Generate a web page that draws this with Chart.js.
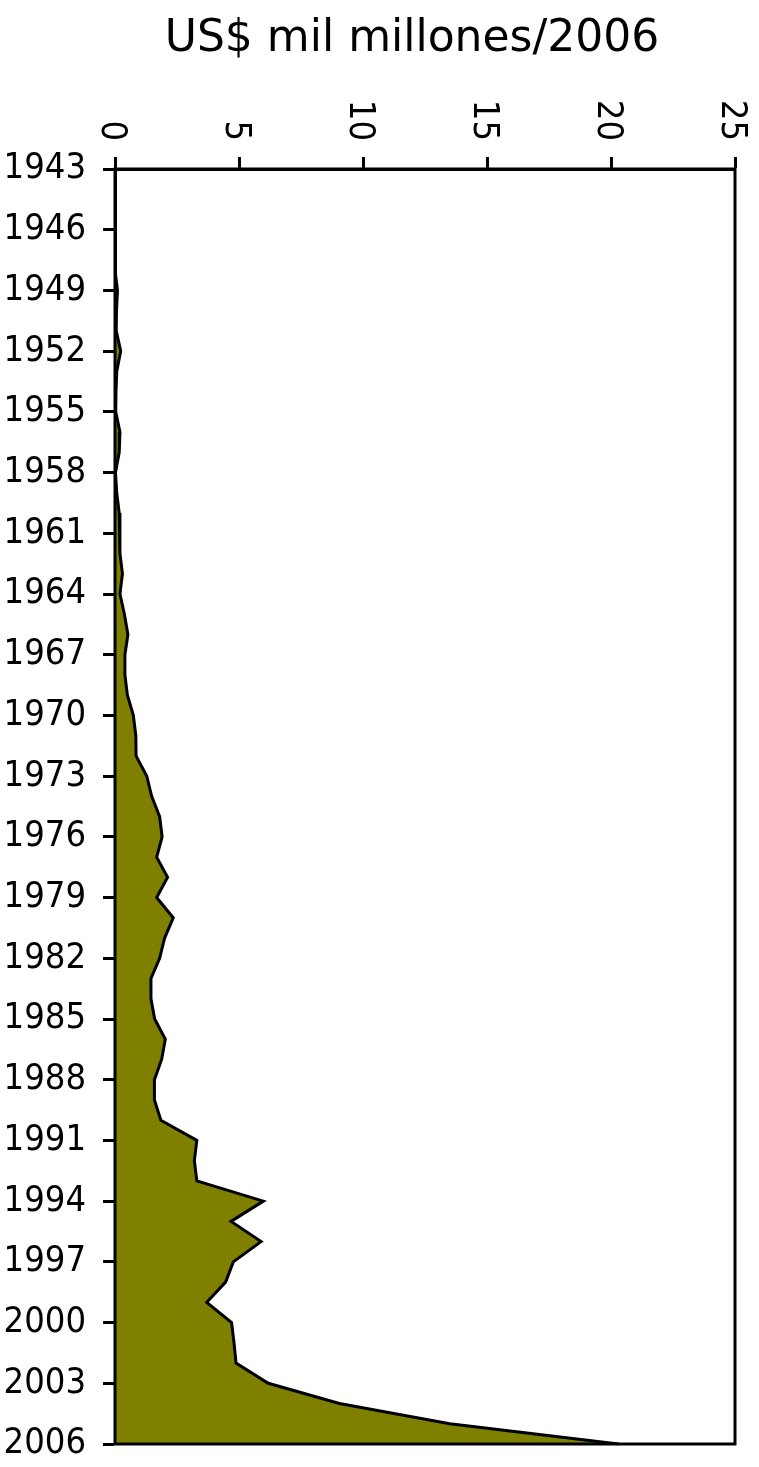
<!DOCTYPE html>
<html>
<head>
<meta charset="utf-8">
<script src="https://cdn.jsdelivr.net/npm/chart.js@4"></script>
<style>
    html, body { margin: 0; padding: 0; background: #fff; }
    #wrap { width: 759px; height: 1467px; position: relative; }
</style>
</head>
<body>
<div id="wrap"><canvas id="myChart"></canvas></div>
<script>
// years on the vertical axis
var years = [];
for (var yr = 1943; yr <= 2006; yr++) years.push(yr);

// US$ mil millones (2006); no data before 1948
var values = [
    null, null, null, null, null,
    0, 0.1, 0.06, 0.05, 0.23, 0.07, 0.04, 0.03, 0.2, 0.17,
    0.02, 0.07, 0.17, 0.2, 0.2, 0.3, 0.2, 0.38, 0.52, 0.4,
    0.4, 0.5, 0.74, 0.84, 0.85, 1.28, 1.48, 1.8, 1.9, 1.68,
    2.12, 1.68, 2.35, 2.0, 1.8, 1.45, 1.45, 1.6, 2.03, 1.88,
    1.59, 1.59, 1.85, 3.3, 3.2, 3.3, 5.98, 4.68, 5.89, 4.77,
    4.46, 3.7, 4.7, 4.8, 4.88, 6.18, 9.05, 13.5, 20.3
];

var valueTicks = [0, 5, 10, 15, 20, 25];
var titleText = 'US$ mil millones/2006';
var labelFamily = '"DejaVu Sans Condensed", "DejaVu Sans", sans-serif';

// title, rotated value labels and the right/bottom frame
var extras = {
    id: 'extras',
    afterDraw: function(chart) {
        var ctx = chart.ctx;
        var area = chart.chartArea;
        var xs = chart.scales.x;

        ctx.save();
        ctx.strokeStyle = '#000';
        ctx.lineWidth = 3;
        ctx.strokeRect(area.left, area.top, area.right - area.left, area.bottom - area.top);

        ctx.fillStyle = '#000';
        ctx.font = '44px "DejaVu Sans", sans-serif';
        ctx.textAlign = 'center';
        ctx.textBaseline = 'alphabetic';
        ctx.fillText(titleText, 412, 51);

        ctx.font = '36px ' + labelFamily;
        valueTicks.forEach(function(v) {
            var px = xs.getPixelForValue(v);
            ctx.save();
            ctx.translate(px, 141);
            ctx.rotate(Math.PI / 2);
            ctx.textAlign = 'right';
            ctx.fillText(String(v), 0, 13);
            ctx.restore();
        });
        ctx.restore();
    }
};

var ctx = document.getElementById('myChart').getContext('2d');
var myChart = new Chart(ctx, {
    type: 'line',
    data: {
        labels: years,
        datasets: [{
            label: titleText,
            data: values,
            fill: 'origin',
            backgroundColor: '#808000',
            borderColor: '#000',
            borderWidth: 3,
            tension: 0,
            pointRadius: 0,
            spanGaps: false
        }]
    },
    options: {
        indexAxis: 'y',
        responsive: true,
        maintainAspectRatio: false,
        animation: false,
        layout: {
            padding: { top: 0, left: 0, right: 24, bottom: 23 }
        },
        plugins: {
            legend: { display: false },
            tooltip: { enabled: false }
        },
        scales: {
            x: {
                type: 'linear',
                position: 'top',
                min: 0,
                max: 25,
                ticks: { stepSize: 5, display: false },
                grid: {
                    drawOnChartArea: false,
                    drawTicks: true,
                    tickLength: 12,
                    tickColor: '#000',
                    tickWidth: 3
                },
                border: { display: true, color: '#000', width: 3 },
                afterFit: function(scale) {
                    scale.height = 169;
                    scale.paddingLeft = 0;
                    scale.paddingRight = 0;
                }
            },
            y: {
                type: 'category',
                offset: false,
                ticks: {
                    autoSkip: false,
                    color: '#000',
                    padding: 17,
                    font: { family: labelFamily, size: 36 },
                    callback: function(val, i) {
                        return i % 3 === 0 ? String(years[i]) : '';
                    }
                },
                grid: {
                    drawOnChartArea: false,
                    drawTicks: true,
                    tickLength: 12,
                    tickWidth: 3,
                    tickColor: function(c) {
                        return c.index % 3 === 0 ? '#000' : 'rgba(0,0,0,0)';
                    }
                },
                border: { display: true, color: '#000', width: 3 },
                afterFit: function(scale) {
                    scale.width = 115;
                    scale.paddingTop = 0;
                    scale.paddingBottom = 0;
                }
            }
        }
    },
    plugins: [extras]
});
</script>
</body>
</html>
